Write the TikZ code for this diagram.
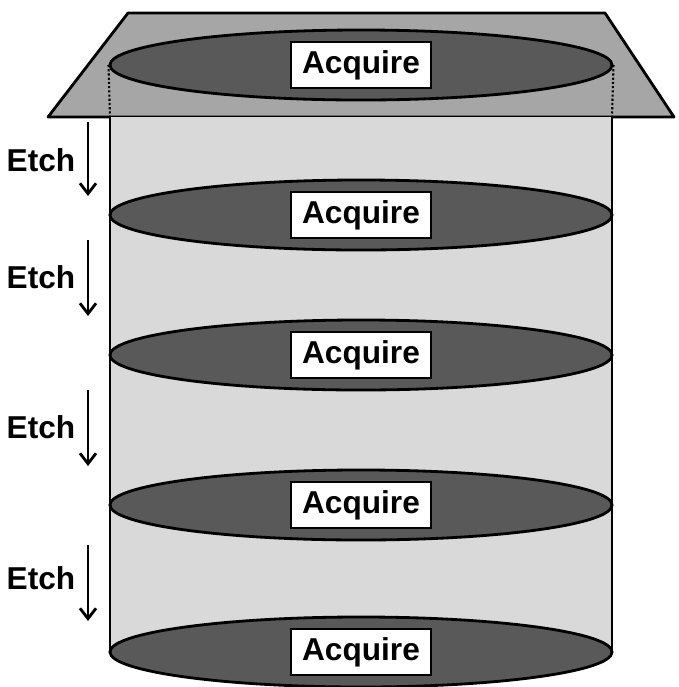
\documentclass[tikz,border=0pt]{standalone}
\usepackage{fontspec}
\setmainfont{Liberation Sans}
\usetikzlibrary{positioning,arrows.meta,shapes.geometric}
\definecolor{plategray}{HTML}{A6A6A6}
\definecolor{wallgray}{HTML}{D9D9D9}
\definecolor{diskgray}{HTML}{595959}
\tikzset{
  disknode/.style={draw, ellipse, line width=2pt, fill=diskgray, minimum width=12.55cm, minimum height=1.75cm, inner sep=0pt},
  acqnode/.style={draw, line width=1.6pt, fill=white, minimum width=3.5cm, minimum height=1.15cm, inner sep=0pt, font=\bfseries\fontsize{22.5}{26}\selectfont},
  etchnode/.style={font=\bfseries\fontsize{22.5}{26}\selectfont},
  etcharrow/.style={-{Straight Barb[length=2.6mm, width=4mm, line width=2pt]}, line width=1.6pt},
  wallline/.style={line width=2pt}
}
\begin{document}
\begin{tikzpicture}[x=0.025cm, y=-0.025cm]
  \useasboundingbox (0,0) rectangle (679,687);
  % plate
  \draw[line width=2pt, fill=plategray, line join=round] (128,13) -- (605,13) -- (674,117) -- (48,117) -- cycle;
  % cylinder wall
  \coordinate (wtl) at (110,117);
  \coordinate (wtr) at (612,117);
  \coordinate (wbl) at (110,652);
  \coordinate (wbr) at (612,652);
  \fill[wallgray] (wtl) rectangle (wbr);
  \draw[wallline] (wtl) -- (wbl);
  \draw[wallline] (wtr) -- (wbr);
  % disks
  \foreach \n/\y in {1/65, 2/215, 3/355, 4/505, 5/652} {
    \node[disknode] (disk\n) at (361,\y) {};
    \node[acqnode] (acq\n) at (disk\n) {Acquire};
  }
  \draw[dash pattern=on 1.5pt off 1.5pt, line width=1.5pt] (disk1.west) -- (wtl);
  \draw[dash pattern=on 1.5pt off 1.5pt, line width=1.5pt] (disk1.east) -- (wtr);
  % etch steps
  \foreach \n/\y/\a/\b in {1/160/122/196, 2/277/240/316, 3/427/390/466, 4/578/545/621} {
    \node[etchnode] (etch\n) at (41,\y) {Etch};
    \coordinate (et\n) at (88,\a);
    \coordinate (eb\n) at (88,\b);
    \draw[etcharrow] (et\n) -- (eb\n);
  }
\end{tikzpicture}
\end{document}
